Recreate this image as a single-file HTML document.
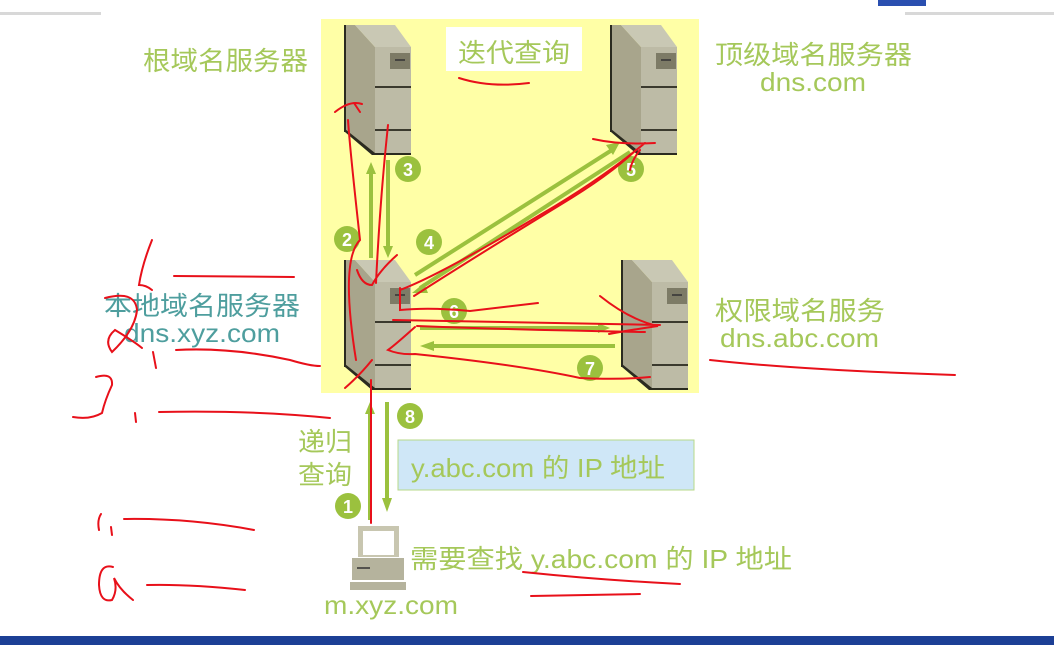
<!DOCTYPE html>
<html><head><meta charset="utf-8"><style>
html,body{margin:0;padding:0;background:#fff;width:1054px;height:645px;overflow:hidden}
svg text{font-family:"Liberation Sans","Noto Sans CJK SC",sans-serif}
</style></head><body>
<svg width="1054" height="645" viewBox="0 0 1054 645" xmlns="http://www.w3.org/2000/svg">
<defs>
<g id="srv">
  <polygon points="0,0 10,0 30,22 30,130 27,130 0,107" fill="#a8a58c"/>
  <polygon points="10,0 50,0 66,22 30,22" fill="#c9c8b4"/>
  <rect x="30" y="22" width="36" height="108" fill="#bdbba6"/>
  <polygon points="0,107 27,130 66,130 66,128 30,128 0,104" fill="#2b2b20"/>
  <line x1="0" y1="0" x2="0" y2="107" stroke="#2b2b20" stroke-width="2"/>
  <rect x="45" y="28" width="20" height="16" fill="#7d7b66"/>
  <line x1="50" y1="35" x2="60" y2="35" stroke="#333" stroke-width="1.5"/>
  <line x1="30" y1="62" x2="66" y2="62" stroke="#3b3a2e" stroke-width="2"/>
  <line x1="30" y1="105" x2="66" y2="105" stroke="#3b3a2e" stroke-width="2"/>
</g>
</defs>
<rect x="0" y="12" width="101" height="3" fill="#d8d8d8"/>
<rect x="905" y="12" width="149" height="3" fill="#d8d8d8"/>
<rect x="878" y="0" width="48" height="6" fill="#2a4fb0"/>
<rect x="0" y="636" width="1054" height="9" fill="#1c3f95"/>
<rect x="321" y="19" width="378" height="374" fill="#ffffa6"/>
<rect x="446" y="27" width="136" height="44" fill="#fff"/>
<text x="458" y="62" font-size="26" fill="#a5c85a" textLength="112" lengthAdjust="spacingAndGlyphs">迭代查询</text>
<use href="#srv" x="345" y="25"/>
<use href="#srv" x="611" y="25"/>
<use href="#srv" x="345" y="260"/>
<use href="#srv" x="622" y="260"/>
<g stroke="#9bc13e" stroke-width="4" fill="#9bc13e">
  <line x1="371" y1="258" x2="371" y2="172"/><polygon points="366,174 371,162 376,174" stroke="none"/>
  <line x1="388" y1="160" x2="388" y2="248"/><polygon points="383,246 388,258 393,246" stroke="none"/>
  <line x1="415" y1="275" x2="612" y2="150"/><polygon points="606,145 620,142 613,155" stroke="none"/>
  <line x1="420" y1="288" x2="630" y2="152"/><polygon points="424,283 412,293 428,293" stroke="none"/>
  <line x1="420" y1="328" x2="600" y2="328"/><polygon points="598,323 610,328 598,333" stroke="none"/>
  <line x1="615" y1="346" x2="432" y2="346"/><polygon points="434,341 420,346 434,351" stroke="none"/>
  <line x1="370" y1="520" x2="370" y2="412"/><polygon points="365,414 370,402 375,414" stroke="none"/>
  <line x1="387" y1="402" x2="387" y2="500"/><polygon points="382,498 387,512 392,498" stroke="none"/>
</g>
<g font-size="18" font-weight="bold" fill="#fff" text-anchor="middle">
  <circle cx="408" cy="169" r="13" fill="#9bc13e"/><text x="408" y="176">3</text>
  <circle cx="347" cy="239" r="13" fill="#9bc13e"/><text x="347" y="246">2</text>
  <circle cx="429" cy="242" r="13" fill="#9bc13e"/><text x="429" y="249">4</text>
  <circle cx="631" cy="169" r="13" fill="#9bc13e"/><text x="631" y="176">5</text>
  <circle cx="454" cy="311" r="13" fill="#9bc13e"/><text x="454" y="318">6</text>
  <circle cx="590" cy="368" r="13" fill="#9bc13e"/><text x="590" y="375">7</text>
  <circle cx="410" cy="416" r="13" fill="#9bc13e"/><text x="410" y="423">8</text>
  <circle cx="348" cy="506" r="13" fill="#9bc13e"/><text x="348" y="513">1</text>
</g>
<g font-size="26" fill="#a5c85a" lengthAdjust="spacingAndGlyphs">
  <text x="143" y="70" textLength="165" lengthAdjust="spacingAndGlyphs">根域名服务器</text>
  <text x="715" y="64" textLength="197" lengthAdjust="spacingAndGlyphs">顶级域名服务器</text>
  <text x="760" y="91" textLength="106" lengthAdjust="spacingAndGlyphs">dns.com</text>
  <text x="715" y="320" textLength="170" lengthAdjust="spacingAndGlyphs">权限域名服务</text>
  <text x="720" y="347" textLength="159" lengthAdjust="spacingAndGlyphs">dns.abc.com</text>
  <text x="298" y="451" textLength="54" lengthAdjust="spacingAndGlyphs">递归</text>
  <text x="298" y="484" textLength="54" lengthAdjust="spacingAndGlyphs">查询</text>
  <text x="410" y="568" textLength="382" lengthAdjust="spacingAndGlyphs">需要查找 y.abc.com 的 IP 地址</text>
  <text x="324" y="614" textLength="134" lengthAdjust="spacingAndGlyphs">m.xyz.com</text>
</g>
<text x="104" y="315" font-size="26" fill="#4e9e9e" textLength="196" lengthAdjust="spacingAndGlyphs">本地域名服务器</text>
<text x="124" y="342" font-size="26" fill="#4e9e9e" textLength="156" lengthAdjust="spacingAndGlyphs">dns.xyz.com</text>
<rect x="398" y="440" width="296" height="50" fill="#cfe7f7" stroke="#b7d88a"/>
<text x="411" y="477" font-size="26" fill="#a5c85a" textLength="254" lengthAdjust="spacingAndGlyphs">y.abc.com 的 IP 地址</text>
<g>
  <rect x="358" y="526" width="41" height="31" fill="#c8c6b0"/>
  <rect x="363" y="531" width="31" height="24" fill="#fff"/>
  <polygon points="352,558 404,558 404,580 352,580" fill="#b5b39d"/>
  <line x1="357" y1="568" x2="370" y2="568" stroke="#333" stroke-width="1.5"/>
  <rect x="350" y="582" width="56" height="8" fill="#b5b39d"/>
</g>
<g stroke="#e8101a" stroke-width="2" fill="none" stroke-linecap="round">
  <path d="M459,78 Q490,88 529,83"/>
  <path d="M356,360 Q340,260 360,240 Q350,150 348,120 M335,112 Q350,100 362,104 M354,103 L360,112"/>
  <path d="M357,270 Q362,285 372,285 Q380,270 397,255 M376,283 Q380,200 388,125"/>
  <path d="M400,288 L400,310 Q430,307 470,311 L538,303"/>
  <path d="M400,290 Q440,275 540,215 Q600,180 645,143 M593,139 Q620,145 655,143"/>
  <path d="M414,296 Q470,260 560,205 Q610,175 636,150 M630,170 Q632,160 640,150"/>
  <path d="M393,320 Q500,322 660,325 M600,296 Q630,320 658,326 Q630,330 609,334"/>
  <path d="M417,326 Q520,330 645,332"/>
  <path d="M415,327 Q395,345 388,350 Q400,355 415,354 Q520,365 580,378 Q620,380 650,377"/>
  <path d="M372,360 Q360,375 345,388 M371,380 L371,523"/>
  <path d="M152,240 Q142,265 139,285 Q146,285 152,290 M174,276 L294,277"/>
  <path d="M105,298 Q135,290 137,310 Q135,330 112,352 Q103,340 115,330 Q135,342 142,348 M153,352 L156,368"/>
  <path d="M176,350 Q230,347 290,360 Q310,366 320,366"/>
  <path d="M96,377 Q113,372 112,385 Q105,400 102,413 Q90,420 73,417 M135,413 L136,422"/>
  <path d="M159,412 Q250,410 330,418"/>
  <path d="M101,514 Q97,520 99,530 M111,527 L112,535 M124,519 Q190,518 254,530"/>
  <path d="M113,567 Q99,563 99,585 Q100,603 112,600 Q118,590 114,578 Q120,590 133,600 M147,585 Q190,584 245,590"/>
  <path d="M523,572 Q600,580 680,584"/>
  <path d="M531,596 L640,594"/>
  <path d="M710,360 Q800,370 955,375"/>
</g>
</svg>
</body></html>
